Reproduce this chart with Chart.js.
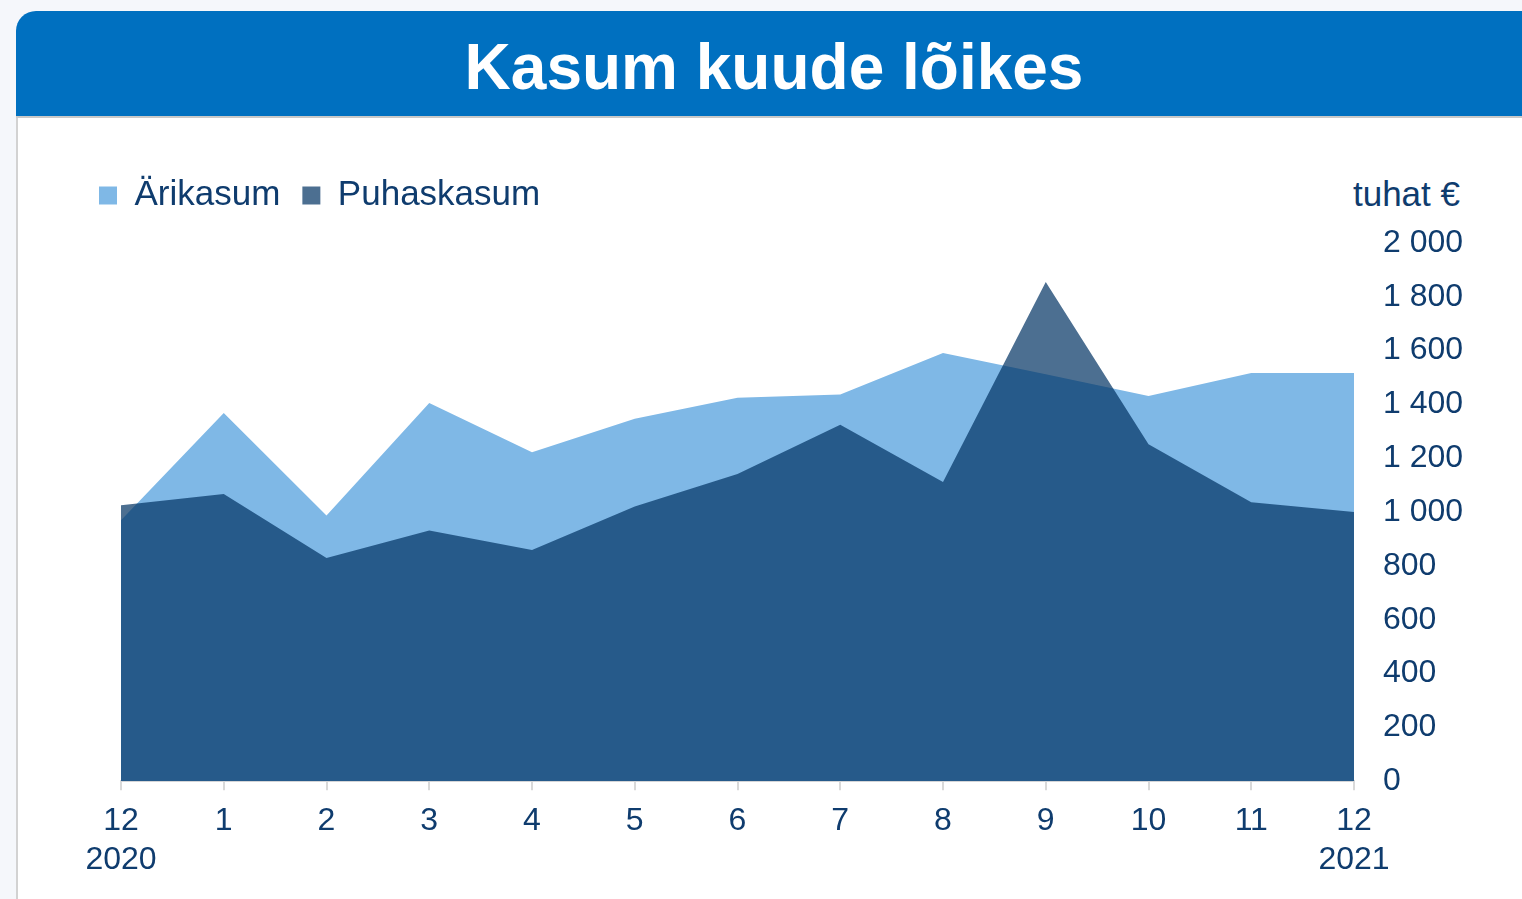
<!DOCTYPE html>
<html>
<head>
<meta charset="utf-8">
<script src="https://cdn.jsdelivr.net/npm/chart.js@4.4.1/dist/chart.umd.min.js"></script>
<style>
  html, body { margin: 0; padding: 0; }
  body {
    width: 1522px; height: 899px; overflow: hidden; position: relative;
    background: #f5f7fb;
    font-family: "Liberation Sans", Arial, sans-serif;
  }
  .panel {
    position: absolute; left: 16px; top: 117px; right: -20px; bottom: -10px;
    background: #fff; border-left: 2px solid #d2d2d2;
  }
  .header {
    position: absolute; left: 16px; top: 11px; right: -30px; height: 105px;
    background: #0070c0; border-top-left-radius: 20px;
    border-bottom: 2px solid #c9c9c9;
  }
  .header h1 {
    position: absolute; left: 0; width: 1516px; top: 0; margin: 0;
    text-align: center; color: #fff; font-weight: bold; font-size: 64px;
    line-height: 112px;
  }
  .unit {
    position: absolute; right: 62px; top: 174px; color: #0f3c6e;
    font-size: 35px; line-height: 40px;
  }
  #wrap { position: absolute; left: 0; top: 120px; width: 1522px; height: 779px; }
</style>
</head>
<body>
<div class="panel"></div>
<div class="header"><h1>Kasum kuude lõikes</h1></div>
<div class="unit">tuhat €</div>
<div id="wrap"><canvas id="myChart"></canvas></div>
<script>
// kuud 12/2020 ... 12/2021
var labels = [['12', '2020'], '1', '2', '3', '4', '5', '6', '7', '8', '9', '10', '11', ['12', '2021']];
var arikasum = [970, 1368, 987, 1405, 1222, 1347, 1425, 1437, 1591, 1512, 1431, 1517, 1517];
var puhaskasum = [1025, 1067, 829, 932, 859, 1021, 1142, 1325, 1112, 1855, 1252, 1037, 1000];
var yTicks = [0, 200, 400, 600, 800, 1000, 1200, 1400, 1600, 1800, 2000];

var textColor = '#0f3c6e';
var fontFamily = '"Liberation Sans", Arial, sans-serif';
var padTop = 36;

function fmt(v) {
    return String(v).replace(/\B(?=(\d{3})+(?!\d))/g, ' ');
}

// legend needs more room below it (plot starts at y = 121 in the canvas)
var legendSpace = {
    id: 'legendSpace',
    beforeInit: function(chart) {
        var fit = chart.legend.fit;
        chart.legend.fit = function() {
            fit.call(this);
            this.height = 123 - padTop;
        };
    }
};

var ctx = document.getElementById('myChart').getContext('2d');
var myChart = new Chart(ctx, {
    type: 'line',
    data: {
        labels: labels,
        datasets: [{
            label: 'Ärikasum',
            data: arikasum,
            backgroundColor: '#7fb8e6',
            borderWidth: 0,
            pointRadius: 0,
            fill: 'origin',
            order: 2
        }, {
            label: 'Puhaskasum',
            data: puhaskasum,
            backgroundColor: 'rgba(0, 50, 99, 0.7)',
            borderWidth: 0,
            pointRadius: 0,
            fill: 'origin',
            order: 1
        }]
    },
    plugins: [legendSpace],
    options: {
        responsive: true,
        maintainAspectRatio: false,
        animation: false,
        layout: {
            padding: { left: 77, right: 58, top: padTop, bottom: 8 }
        },
        plugins: {
            tooltip: { enabled: false },
            legend: {
                position: 'top',
                align: 'start',
                labels: {
                    boxWidth: 18,
                    boxHeight: 18,
                    padding: 22,
                    color: textColor,
                    font: { size: 35, family: fontFamily },
                    sort: function(a, b) { return a.datasetIndex - b.datasetIndex; }
                }
            }
        },
        scales: {
            x: {
                grid: {
                    drawOnChartArea: false,
                    drawTicks: true,
                    tickLength: 9,
                    color: '#d9d9d9',
                    lineWidth: 2
                },
                border: { color: '#d9d9d9', width: 2 },
                ticks: {
                    color: textColor,
                    padding: 12,
                    maxRotation: 0,
                    autoSkip: false,
                    font: { size: 32, family: fontFamily, lineHeight: 1.2 }
                },
                // plot starts at x = 121
                afterFit: function(s) { s.paddingLeft = 121; }
            },
            y: {
                position: 'right',
                min: 0,
                max: 2000,
                grid: { display: false, drawTicks: false },
                border: { display: false },
                afterBuildTicks: function(s) {
                    s.ticks = yTicks.map(function(v) { return { value: v }; });
                },
                ticks: {
                    color: textColor,
                    padding: 29,
                    font: { size: 32, family: fontFamily },
                    callback: function(v) { return fmt(v); }
                },
                afterFit: function(s) { s.width = 110; }
            }
        }
    }
});
</script>
</body>
</html>
